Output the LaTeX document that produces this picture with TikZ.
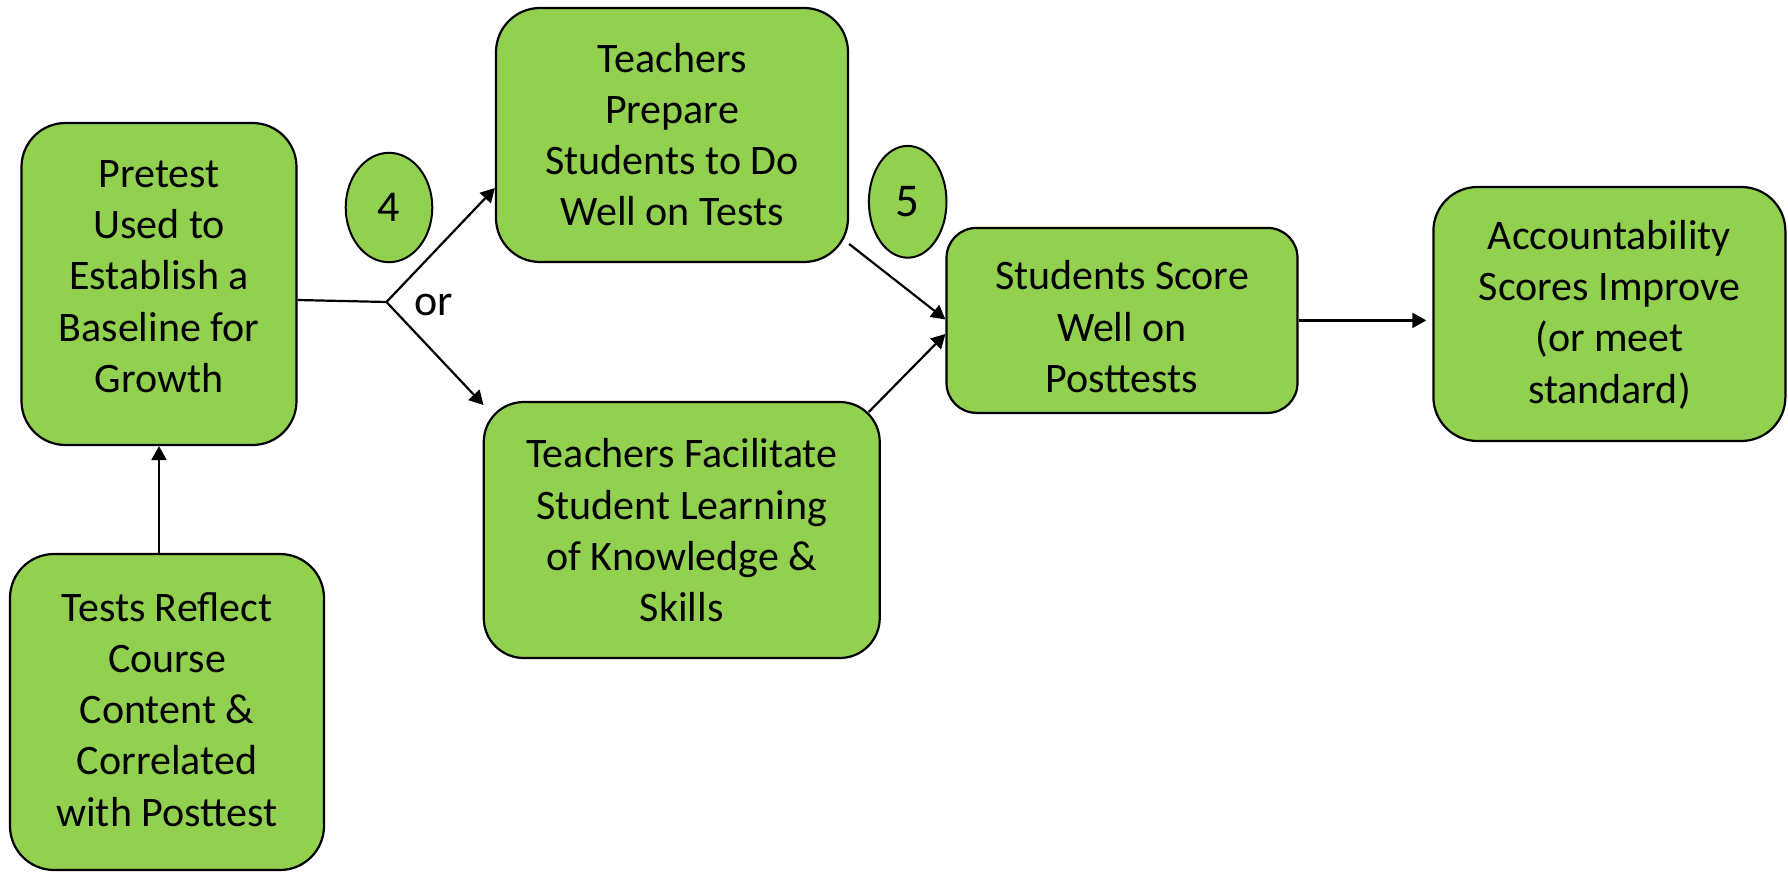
\documentclass[tikz,border=0pt]{standalone}
\usepackage{fontspec}
\setmainfont{Carlito}
\usetikzlibrary{arrows.meta,shapes.geometric}
\definecolor{boxgreen}{HTML}{92D050}
\begin{document}
\begin{tikzpicture}[x=0.5pt,y=-0.5pt,
 box/.style={draw=black, fill=boxgreen, line width=1.1pt, inner sep=0pt},
 txt/.style={align=center, font=\fontsize{21}{25.6}\selectfont, inner sep=0pt},
 num/.style={draw=black, fill=boxgreen, ellipse, line width=1pt,
   font=\fontsize{22}{26}\selectfont, inner sep=0pt},
 conn/.style={line width=1.1pt, -{Triangle[length=7pt,width=7.5pt]}},
 plain/.style={line width=1.1pt}]
\useasboundingbox (0,0) rectangle (1788,872);

\node[box, rounded corners=22pt, minimum width=137.5pt, minimum height=161pt] (pre) at (159,284) {};
\node[txt] (pret) at (159,276.5) {Pretest\\Used to\\Establish a\\Baseline for\\Growth};

\node[box, rounded corners=22pt, minimum width=176pt, minimum height=127pt] (prep) at (672,135) {};
\node[txt] (prept) at (672,134.6) {Teachers\\Prepare\\Students to Do\\Well on Tests};

\node[box, rounded corners=15pt, minimum width=175.5pt, minimum height=92.5pt] (stu) at (1122,320.4) {};
\node[txt] (stut) at (1122,326.7) {Students Score\\Well on\\Posttests};

\node[box, rounded corners=20pt, minimum width=198pt, minimum height=128pt] (fac) at (681.75,530) {};
\node[txt] (fact) at (681.75,530.2) {Teachers Facilitate\\Student Learning\\of Knowledge \&\\Skills};

\node[box, rounded corners=22pt, minimum width=176pt, minimum height=127pt] (acc) at (1609.4,314) {};
\node[txt] (acct) at (1609.4,314.7) {Accountability\\Scores Improve\\(or meet\\standard)};

\node[box, rounded corners=22pt, minimum width=157pt, minimum height=158pt] (tst) at (167,712) {};
\node[txt] (tstt) at (167,709.3) {Tests Reflect\\Course\\Content \&\\Correlated\\with Posttest};

\node[num, minimum width=43.3pt, minimum height=54.7pt] (n4) at (389,207.5) {4};
\node[num, minimum width=38.8pt, minimum height=55.9pt, font=\fontsize{23.5}{27}\selectfont] (n5) at (907.7,201.8) {5};

\node[font=\fontsize{22}{26}\selectfont, inner sep=0pt] (or) at (434,305) {or};

\coordinate (j) at (386.5,302);
\coordinate (fj) at (483.5,405);

\draw[plain] ([yshift=-8pt]pre.east) -- (j);
\draw[conn] (j) -- ([yshift=-26.5pt]prep.west);
\draw[conn] (j) -- (fj);
\draw[conn] ([yshift=-54.5pt]prep.east) -- ([yshift=0.5pt]stu.west);
\draw[conn] ([xshift=-6pt,yshift=-5.5pt]fac.north east) -- ([yshift=-6.8pt]stu.west);
\draw[conn, shorten >=3pt] (stu.east) -- (stu.east -| acc.west);
\draw[conn] (tst.north -| pre.south) -- (pre.south);
\end{tikzpicture}
\end{document}
